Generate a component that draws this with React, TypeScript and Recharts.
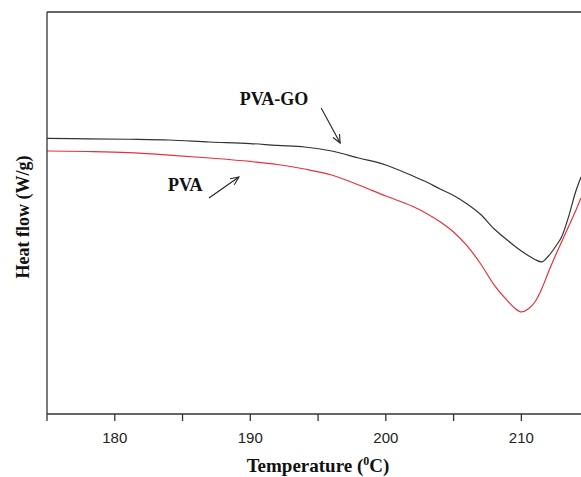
import React from "react"
import { LineChart, Line, XAxis, YAxis, ReferenceLine, ReferenceDot } from "recharts"

// temperature (°C)
const temps = [
  175, 178, 181, 184, 187, 190, 192, 194, 196, 198, 200, 202, 203, 204, 205, 206, 207, 208, 209, 209.5, 210, 210.5,
  211, 211.5, 212, 212.5, 213, 213.5, 214, 214.4,
]

// heat flow, arbitrary offset (W/g)
const pvaGo = [
  3.427, 3.423, 3.417, 3.408, 3.383, 3.364, 3.34, 3.321, 3.271, 3.184, 3.097, 2.96, 2.886, 2.799, 2.718, 2.612, 2.481,
  2.301, 2.158, 2.09, 2.027, 1.971, 1.922, 1.891, 1.965, 2.077, 2.214, 2.463, 2.761, 2.948,
]
const pva = [
  3.271, 3.265, 3.252, 3.221, 3.184, 3.141, 3.103, 3.047, 2.973, 2.848, 2.711, 2.58, 2.495, 2.392, 2.264, 2.09, 1.866,
  1.604, 1.405, 1.318, 1.269, 1.306, 1.393, 1.555, 1.766, 1.965, 2.152, 2.338, 2.525, 2.687,
]

const tickValues = [175, 180, 185, 190, 195, 200, 205, 210]
const labeledTicks = [180, 190, 200, 210]

// annotation anchors in data space
const labels = [
  { name: "PVA-GO", t: 191.75, v: 3.843 },
  { name: "PVA", t: 185.2, v: 2.774 },
]
const arrows = [
  { from: [195.23, 3.806], to: [196.63, 3.371] },
  { from: [186.95, 2.687], to: [189.16, 2.948] },
]

const data = temps.map((t, i) => ({ t, pvaGo: pvaGo[i], pva: pva[i] }))

const serif = "'Liberation Serif', 'Times New Roman', serif"
const sans = "'Liberation Sans', Arial, sans-serif"

function Arrow(props: any) {
  const { x1, y1, x2, y2 } = props
  const ang = Math.atan2(y2 - y1, x2 - x1)
  const len = 9
  const spread = 0.42
  const ax = x2 - len * Math.cos(ang - spread)
  const ay = y2 - len * Math.sin(ang - spread)
  const bx = x2 - len * Math.cos(ang + spread)
  const by = y2 - len * Math.sin(ang + spread)
  return (
    <g stroke="#222" strokeWidth={1.1} fill="none">
      <line x1={x1} y1={y1} x2={x2} y2={y2} />
      <polyline points={`${ax},${ay} ${x2},${y2} ${bx},${by}`} />
    </g>
  )
}

function XLabel(props: any) {
  const { x, y, width } = props.viewBox
  return (
    <text x={x + width / 2 + 4} y={y + 58} textAnchor="middle" fontFamily={serif} fontWeight="bold" fontSize={19} fill="#111">
      Temperature (
      <tspan dy={-7} fontSize={12}>0</tspan>
      <tspan dy={7}>C)</tspan>
    </text>
  )
}

function YLabel(props: any) {
  const { y, height } = props.viewBox
  const cx = 29
  const cy = y + height / 2 + 4
  return (
    <text
      x={cx}
      y={cy}
      transform={`rotate(-90, ${cx}, ${cy})`}
      textAnchor="middle"
      fontFamily={serif}
      fontWeight="bold"
      fontSize={18}
      fill="#111"
    >
      Heat flow (W/g)
    </text>
  )
}

export default function App() {
  return (
    <div style={{ position: "absolute", left: 0, top: 0, width: 581, height: 477, overflow: "hidden" }}>
      <LineChart width={581} height={477} data={data} margin={{ top: 12, right: 0, bottom: 0, left: 0 }}>
        <XAxis
          dataKey="t"
          type="number"
          domain={[175, 214.4]}
          allowDataOverflow
          ticks={tickValues}
          interval={0}
          tickFormatter={(v: number) => (labeledTicks.includes(v) ? String(v) : "")}
          tickSize={7}
          tickMargin={11}
          height={63}
          axisLine={{ stroke: "#333", strokeWidth: 1.3 }}
          tickLine={{ stroke: "#333", strokeWidth: 1.3 }}
          tick={{ fill: "#222", fontSize: 15, fontFamily: sans }}
          label={{ content: XLabel }}
        />
        <YAxis
          type="number"
          domain={[0, 5]}
          allowDataOverflow
          tick={false}
          tickLine={false}
          width={47}
          axisLine={{ stroke: "#333", strokeWidth: 1.3 }}
          label={{ content: YLabel }}
        />
        <ReferenceLine y={5} stroke="#333" strokeWidth={1.3} />
        <Line
          type="monotone"
          dataKey="pvaGo"
          stroke="#333"
          strokeWidth={1.2}
          dot={false}
          isAnimationActive={false}
        />
        <Line type="monotone" dataKey="pva" stroke="#e8303a" strokeWidth={1.2} dot={false} isAnimationActive={false} />
        {arrows.map((a, i) => (
          <ReferenceLine
            key={"arrow" + i}
            segment={[
              { x: a.from[0], y: a.from[1] },
              { x: a.to[0], y: a.to[1] },
            ]}
            shape={Arrow}
          />
        ))}
        {labels.map((l) => (
          <ReferenceDot
            key={l.name}
            x={l.t}
            y={l.v}
            r={0}
            shape={(p: any) => (
              <text x={p.cx} y={p.cy} textAnchor="middle" fontFamily={serif} fontWeight="bold" fontSize={18} fill="#111">
                {l.name}
              </text>
            )}
          />
        ))}
      </LineChart>
    </div>
  )
}
